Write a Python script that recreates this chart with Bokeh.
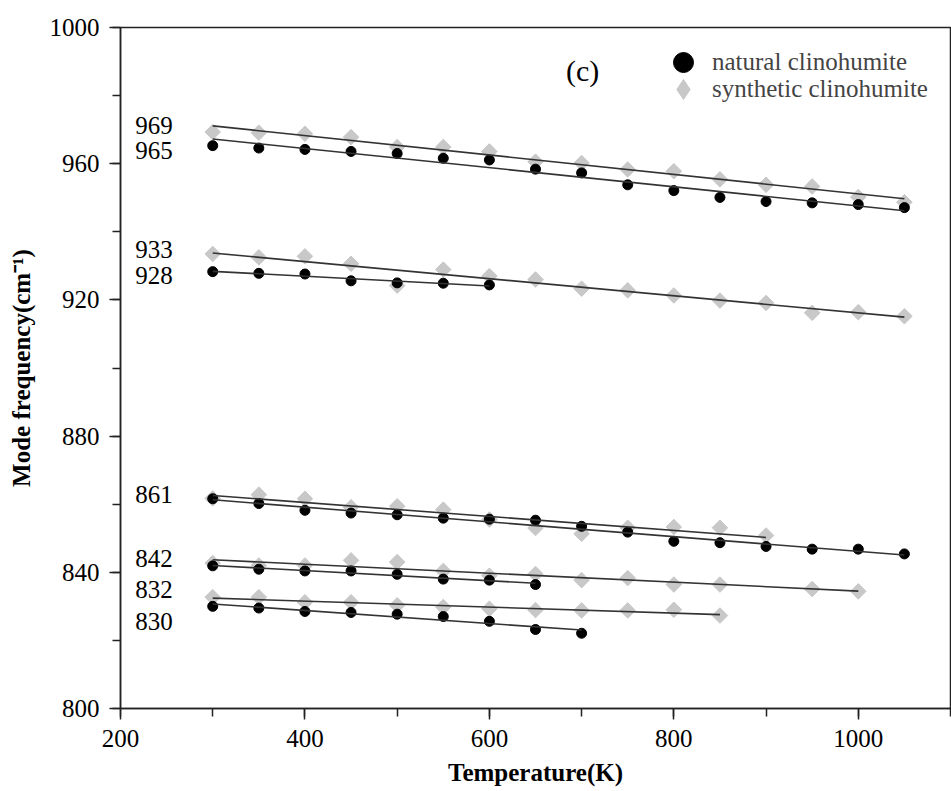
import numpy as np
from bokeh.plotting import figure
from bokeh.models import SingleIntervalTicker, Range1d, Legend, LegendItem, ColumnDataSource
from bokeh.core.properties import value
from bokeh.embed import file_html
from bokeh.resources import INLINE

# ---------------- data ----------------
T_all = [300, 350, 400, 450, 500, 550, 600, 650, 700, 750, 800, 850, 900, 950, 1000, 1050]

# natural clinohumite
nat_965_T = T_all
nat_965 = [965.3, 964.6, 964.2, 963.6, 963.0, 961.6, 961.1, 958.4, 957.3, 953.8, 952.1, 950.1, 948.9, 948.5, 948.0, 947.1]
nat_928_T = [300, 350, 400, 450, 500, 550, 600]
nat_928 = [928.3, 927.8, 927.6, 925.6, 925.0, 924.9, 924.4]
nat_861_T = T_all
nat_861 = [861.6, 860.2, 858.2, 857.4, 856.9, 855.9, 855.6, 855.3, 853.5, 851.8, 849.1, 848.7, 847.6, 846.8, 846.8, 845.4]
nat_842_T = [300, 350, 400, 450, 500, 550, 600, 650]
nat_842 = [841.9, 840.9, 840.4, 840.4, 839.4, 838.0, 837.7, 836.4]
nat_830_T = [300, 350, 400, 450, 500, 550, 600, 650, 700]
nat_830 = [830.0, 829.5, 828.5, 828.2, 827.7, 827.0, 825.6, 823.2, 822.1]

# synthetic clinohumite
syn_969_T = T_all
syn_969 = [969.3, 969.1, 968.8, 967.8, 964.9, 964.9, 963.6, 960.6, 960.2, 958.3, 957.8, 955.4, 953.8, 953.3, 950.2, 948.7]
syn_933_T = T_all
syn_933 = [933.5, 932.5, 932.8, 930.6, 924.2, 928.9, 927.0, 926.0, 923.3, 922.8, 921.3, 919.8, 919.1, 916.2, 916.4, 915.2]
syn_861_T = [300, 350, 400, 450, 500, 550, 600, 650, 700, 750, 800, 850, 900]
syn_861 = [861.7, 862.8, 861.6, 859.1, 859.4, 858.4, 855.5, 853.0, 851.3, 853.1, 853.3, 853.1, 850.8]
syn_842_T = [300, 350, 400, 450, 500, 550, 600, 650, 700, 750, 800, 850, 950, 1000]
syn_842 = [842.7, 842.0, 842.0, 843.5, 843.0, 840.4, 839.0, 839.5, 837.7, 838.3, 836.4, 836.4, 835.1, 834.4]
syn_832_T = [300, 350, 400, 450, 500, 550, 600, 650, 700, 750, 800, 850]
syn_832 = [832.7, 832.7, 831.2, 831.2, 830.3, 829.8, 829.3, 828.9, 828.8, 828.8, 829.0, 827.3]

natural = [(nat_965_T, nat_965), (nat_928_T, nat_928), (nat_861_T, nat_861),
           (nat_842_T, nat_842), (nat_830_T, nat_830)]
synthetic = [(syn_969_T, syn_969), (syn_933_T, syn_933), (syn_861_T, syn_861),
             (syn_842_T, syn_842), (syn_832_T, syn_832)]

mode_labels = ["969", "965", "933", "928", "861", "842", "832", "830"]
mode_label_y = [971.2, 963.9, 934.8, 927.2, 862.9, 844.1, 835.0, 825.6]
mode_label_x = 216

panel_label = "(c)"
legend_labels = ["natural clinohumite", "synthetic clinohumite"]

SERIF = "Liberation Serif"
GRAY = "#c8c8c8"

# ---------------- figure ----------------
p = figure(width=951, height=791, output_backend="svg", toolbar_location=None,
           x_range=Range1d(200, 1100), y_range=Range1d(800, 1000),
           min_border_left=120, min_border_right=1, min_border_top=27, min_border_bottom=83)
p.grid.visible = False
p.background_fill_color = "white"
p.outline_line_color = "#222222"
p.outline_line_width = 1.5

# synthetic diamonds
syn_leg = None
for T, v in synthetic:
    p.scatter(T, v, marker="square", angle=np.pi / 4, size=11,
              fill_color=GRAY, line_color=GRAY)
    # tiny diamond copy hidden under the visible marker; used for the legend glyph
    syn_leg = p.scatter(T, v, marker="diamond", size=1, fill_color=GRAY, line_color=GRAY)
# natural circles
nat_leg = None
for T, v in natural:
    nat_leg = p.scatter(T, v, marker="circle", size=10, fill_color="black", line_color="black")

# linear fits
for T, v in natural + synthetic:
    k, b = np.polyfit(T, v, 1)
    xs = [min(T), max(T)]
    p.line(xs, [k * x + b for x in xs], line_color="#333333", line_width=1.6)

# mode labels
src = ColumnDataSource(dict(x=[mode_label_x] * len(mode_labels), y=mode_label_y, t=mode_labels))
p.text("x", "y", text="t", source=src, text_font=value(SERIF), text_font_size="25px",
       text_baseline="middle", text_align="left", text_color="black")

p.text([701], [987.4], text=[panel_label], text_font=value(SERIF), text_font_size="30px",
       text_baseline="middle", text_align="center", text_color="black")

# legends (one per row so the rows can sit close together)
for label, rend, loc in ((legend_labels[0], nat_leg, (538, 621)),
                         (legend_labels[1], syn_leg, (538, 594))):
    lg = Legend(items=[LegendItem(label=label, renderers=[rend])],
                location=loc, border_line_alpha=0, background_fill_alpha=0,
                label_text_font=SERIF, label_text_font_size="25px",
                glyph_width=50, glyph_height=50, label_standoff=4, spacing=0,
                margin=0, padding=0)
    p.add_layout(lg)

# axes
for ax, interval in ((p.xaxis, 200), (p.yaxis, 40)):
    ax.ticker = SingleIntervalTicker(interval=interval, num_minor_ticks=2)
    ax.axis_line_color = "#222222"
    ax.axis_line_width = 1.5
    ax.major_tick_line_color = "#222222"
    ax.minor_tick_line_color = "#222222"
    ax.major_tick_line_width = 1.5
    ax.minor_tick_line_width = 1.5
    ax.major_tick_out = 11
    ax.major_tick_in = 0
    ax.minor_tick_out = 8
    ax.minor_tick_in = 0
    ax.major_label_text_font = SERIF
    ax.major_label_text_font_size = "25px"
    ax.major_label_text_color = "black"
    ax.axis_label_text_font = SERIF
    ax.axis_label_text_font_style = "bold"
    ax.axis_label_text_font_size = "25px"
    ax.axis_label_text_color = "black"

p.xaxis.axis_label = "Temperature(K)"
p.yaxis.axis_label = "Mode frequency(cm\u207b\u00b9)"
p.xaxis.major_label_standoff = 10
p.yaxis.major_label_standoff = 10
p.xaxis.axis_label_standoff = 9
p.yaxis.axis_label_standoff = 12

open("out.html", "w").write(file_html(p, INLINE))
